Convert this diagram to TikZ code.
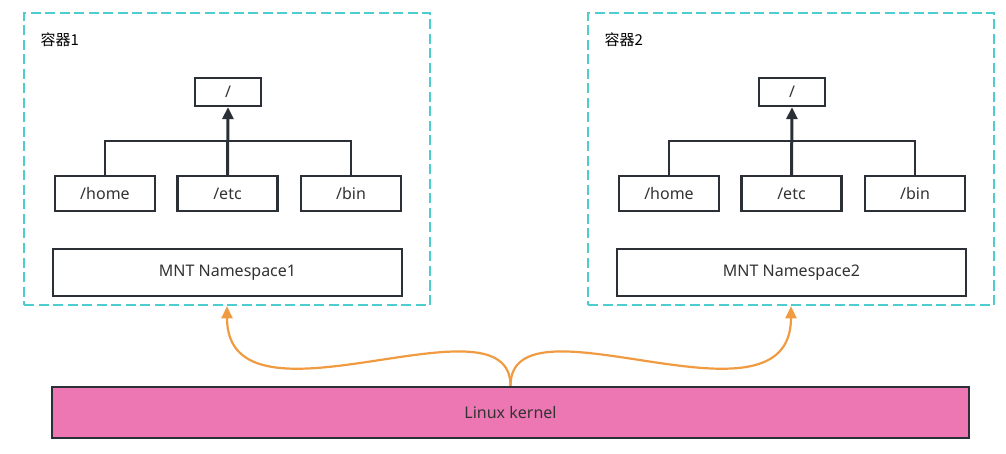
\documentclass[tikz,border=0pt]{standalone}
\usepackage{fontspec}
\setmainfont{Noto Sans}
\newfontfamily\cjkfont{Noto Sans CJK SC}
\usetikzlibrary{arrows.meta,positioning}
\definecolor{boxdark}{RGB}{43,48,54}
\definecolor{textgray}{RGB}{51,51,51}
\definecolor{dashteal}{RGB}{78,205,206}
\definecolor{kernelpink}{RGB}{237,119,178}
\definecolor{curveorange}{RGB}{240,155,65}

\begin{document}
\begin{tikzpicture}[x=1pt, y=-1pt,
      dirbox/.style={rectangle, draw=boxdark, line width=2.4pt, fill=white,
                     text=textgray, font=\fontsize{16}{18}\selectfont,
                     minimum width=100pt, minimum height=35pt, inner sep=0pt},
      rootbox/.style={dirbox, minimum width=66pt, minimum height=28pt},
      nsbox/.style={dirbox, minimum width=349pt, minimum height=47pt},
      container/.style={rectangle, draw=dashteal, line width=2.5pt,
                        dash pattern=on 10pt off 4.5pt,
                        minimum width=406pt, minimum height=292pt},
      treeline/.style={draw=boxdark, line width=2.2pt},
      treearrow/.style={treeline, line width=3pt,
                        -{Triangle[length=12pt,width=11pt]}},
      curvearrow/.style={draw=curveorange, line width=2.2pt,
                         -{Triangle[length=12pt,width=11pt]}},
    ]
      \useasboundingbox (0,0) rectangle (1006,454);
      %% Containers with their directory trees
      \foreach \c/\dx in {1/0, 2/564}{
        \node[container] (cont\c) at (227+\dx, 159) {};
        \node[anchor=west, text=black, font=\cjkfont\fontsize{15}{17}\selectfont]
              (label\c) at (37+\dx, 40) {容器\c};
        \node[rootbox] (root\c) at (228+\dx, 92) {/};
        \node[dirbox] (home\c) at (105+\dx, 193.5) {/home};
        \node[dirbox] (etc\c)  at (227.5+\dx, 193.5) {/etc};
        \node[dirbox] (bin\c)  at (351+\dx, 193.5) {/bin};
        \node[nsbox] (ns\c) at (227.5+\dx, 272.5) {MNT Namespace\c};
        \draw[treeline] (home\c.north) -- ++(0,-34) -| (bin\c.north);
        \draw[treearrow] (etc\c.north) -- (root\c.south);
      }
      %% Kernel
      \node[dirbox, fill=kernelpink, minimum width=917pt, minimum height=51pt]
            (kernel) at (510.5, 412.5) {Linux kernel};
      %% Kernel -> containers
      \draw[curvearrow] (kernel.north) .. controls +(0,-97) and +(0,135) .. (cont1.south);
      \draw[curvearrow] (kernel.north) .. controls +(0,-97) and +(0,135) .. (cont2.south);
    \end{tikzpicture}
\end{document}
